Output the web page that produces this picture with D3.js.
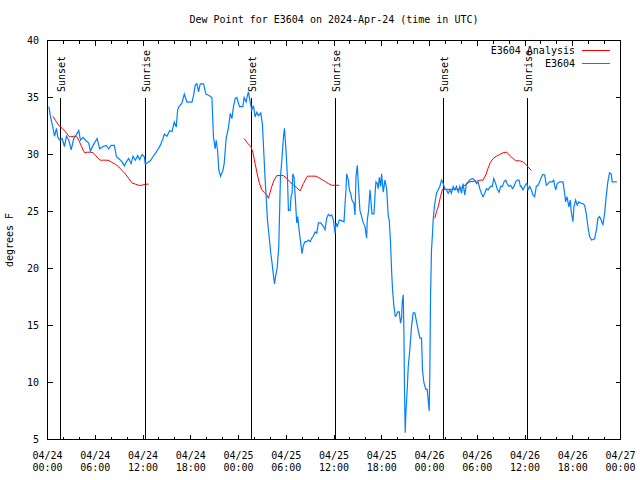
<!DOCTYPE html>
<html><head><meta charset="utf-8">
<script src="https://cdn.jsdelivr.net/npm/d3@7"></script>
<style>
body{margin:0;background:#fff;}
text{font-family:"DejaVu Sans Mono",monospace;font-size:10px;fill:#000;}
</style></head><body>
<svg id="c" width="640" height="480"></svg>
<script>
// hours since 2024-04-24 00:00 UTC
const obsHours = [0.17,0.38,0.67,0.88,1.13,1.30,1.55,1.84,2.13,2.38,2.68,2.97,3.30,3.60,3.93,4.14,4.47,4.77,5.18,5.39,5.73,6.23,6.56,6.98,7.36,7.69,7.99,8.40,8.66,8.95,9.37,9.66,9.91,10.20,10.50,10.75,11.04,11.33,11.58,11.88,12.17,12.29,12.59,12.92,13.25,13.55,13.84,14.17,14.51,14.68,15.01,15.35,15.64,15.93,16.18,16.35,16.52,16.89,17.19,17.52,18.15,18.36,18.57,18.77,18.98,19.19,19.61,19.90,20.24,20.66,20.86,21.07,21.20,21.37,21.53,21.74,22.04,22.20,22.45,22.75,22.96,23.17,23.37,23.58,23.79,24.13,
24.54,24.71,24.96,25.13,25.25,25.46,25.67,25.88,26.09,26.30,26.51,26.80,27.01,27.14,27.35,27.55,27.64,27.89,28.06,28.22,28.39,28.52,28.68,28.85,29.06,29.19,29.27,29.44,29.65,29.77,29.94,30.15,30.27,30.48,30.61,30.73,30.82,30.98,31.15,31.32,31.44,31.61,31.82,31.99,32.15,32.36,32.57,32.78,32.99,33.20,33.41,33.62,33.83,34.04,34.33,34.66,34.87,35.08,35.29,35.50,35.71,35.92,36.13,36.25,36.42,36.67,36.96,37.26,37.38,37.51,37.59,37.80,37.93,38.09,38.26,38.51,38.64,38.76,38.93,39.05,39.26,39.47,39.68,39.89,40.10,40.18,40.35,40.52,40.60,40.77,41.02,41.14,41.27,41.44,41.56,41.69,41.86,41.98,42.19,42.40,42.61,42.82,42.94,43.11,43.23,43.36,43.53,43.70,43.86,43.99,44.20,44.36,44.49,44.57,44.70,44.78,44.87,44.95,45.03,45.20,45.33,45.53,45.74,45.95,46.16,46.37,46.58,46.79,47.00,47.12,47.29,47.54,47.71,47.83,47.96,48.04,48.13,48.25,48.38,48.46,48.63,
48.67,48.88,49.09,49.30,49.51,49.72,49.92,50.13,50.34,50.55,50.76,50.97,51.18,51.39,51.60,51.81,52.02,52.22,52.43,52.64,52.85,53.14,53.40,53.69,53.90,54.11,54.32,54.52,54.73,54.94,55.15,55.36,55.65,55.90,56.07,56.32,56.49,56.74,56.95,57.16,57.37,57.58,57.74,57.99,58.20,58.41,58.62,58.83,59.04,59.25,59.42,59.54,59.75,59.96,60.17,60.25,60.38,60.59,60.80,61.00,61.21,61.42,61.63,61.84,62.05,62.26,62.47,62.68,62.89,63.10,63.43,63.60,63.85,64.06,64.35,64.77,64.98,65.10,65.27,65.52,65.69,65.81,66.02,66.15,66.36,66.56,66.77,67.07,67.28,67.49,67.70,67.91,68.12,68.37,68.75,69.00,69.16,69.37,69.58,69.79,70.00,70.20,70.41,70.62,70.83,70.96,71.25,71.54];
const obsValues = [34.2,33.3,32.4,31.6,32.3,31.5,31.25,31.4,30.7,31.6,31.25,30.4,31.4,31.7,32.1,31.25,31.5,31.25,31.0,30.3,30.8,31.4,30.5,30.7,30.8,30.5,30.8,30.8,29.8,29.65,29.35,29.0,29.35,29.65,29.2,29.85,29.5,29.9,29.55,30.0,29.8,29.15,29.3,29.45,29.8,30.1,30.4,30.8,31.4,31.8,31.6,32.1,32.0,32.85,32.4,33.9,34.2,34.5,35.3,34.6,34.6,35.2,36.1,36.2,35.5,36.2,36.2,35.3,35.2,35.0,31.5,30.5,31.25,30.4,28.6,28.1,28.6,29.2,31.4,32.4,33.6,33.15,34.2,34.9,35.0,34.2,
34.2,35.0,34.6,35.2,35.5,34.6,33.9,34.3,33.3,33.7,33.4,33.65,32.6,30.7,27.75,25.4,24.25,22.5,21.3,20.45,19.4,18.65,19.4,20.0,21.9,25.7,28.0,29.5,31.5,32.3,30.7,28.0,25.1,25.1,26.3,26.6,28.3,28.0,26.0,24.0,24.55,23.4,22.2,21.3,22.05,22.35,22.35,22.5,22.35,22.65,22.85,23.2,23.1,24.0,24.0,23.7,23.4,24.4,24.75,24.6,24.7,24.25,23.1,24.0,23.7,24.25,24.2,24.1,25.55,27.0,28.3,27.75,26.9,26.6,26.0,25.7,24.7,28.0,29.05,27.45,25.1,24.55,24.0,23.7,22.65,24.25,25.1,26.9,26.3,24.8,24.8,26.3,27.6,27.45,27.0,28.0,27.2,28.3,26.7,27.75,27.0,24.55,24.25,22.2,19.9,18.1,16.65,15.8,15.9,16.2,16.2,15.2,15.65,17.0,17.7,14.6,8.8,5.6,7.3,9.4,11.4,12.9,14.9,16.1,16.1,15.35,14.6,13.9,13.9,11.1,10.0,9.4,9.4,8.5,7.5,10.8,17.55,21.6,23.1,24.25,25.55,
25.7,26.6,26.9,27.2,27.75,27.45,27.0,26.9,26.6,26.9,26.6,27.2,26.9,27.2,26.7,27.2,26.6,27.45,26.45,27.45,27.6,27.8,27.9,27.75,27.45,27.6,27.0,26.6,26.3,26.6,27.0,26.9,27.2,27.2,27.9,27.45,27.0,26.7,27.2,27.2,27.6,27.75,27.45,27.2,27.3,27.0,27.2,27.6,27.75,27.75,27.2,27.2,26.9,27.2,27.45,27.45,26.9,27.2,26.9,26.45,26.3,27.2,27.3,27.6,28.0,28.25,28.2,27.3,27.45,27.6,27.6,27.75,26.9,27.45,27.6,27.6,26.6,25.85,26.3,25.4,26.0,25.0,24.1,25.4,26.0,25.55,25.85,25.7,25.7,25.55,24.8,23.65,22.8,22.5,22.6,23.5,24.4,24.55,24.25,23.8,24.8,26.3,27.6,28.4,28.3,27.6,27.6,27.6];

// analysis series (null = no data)
const anaHours = [0.67,1.00,1.42,1.84,2.26,2.68,2.89,3.30,3.64,3.93,4.22,4.47,4.68,4.98,5.39,5.73,6.02,6.31,6.65,7.07,7.49,7.78,8.11,8.53,8.95,9.37,9.78,10.20,10.62,11.04,11.46,11.88,12.29,12.71,
18.0,
24.71,25.13,25.55,25.80,26.09,26.38,26.64,26.93,27.26,27.55,27.76,28.18,28.47,28.81,29.23,29.65,30.06,30.48,30.90,31.32,31.74,32.15,32.66,33.20,33.74,34.25,34.75,35.29,35.71,36.25,36.67,
42.0,
48.67,48.88,49.09,49.38,49.63,50.05,50.55,50.97,51.39,51.81,52.22,52.64,53.06,53.48,53.90,54.32,54.73,55.07,55.36,55.65,55.99,56.41,56.82,57.24,57.66,57.87,58.16,58.50,58.83,59.33,59.75,60.09,60.38,60.80];
const anaValues = [33.35,33.0,32.55,32.3,32.0,31.6,31.55,31.6,31.6,31.25,30.8,30.4,30.15,30.2,30.2,30.15,29.95,29.7,29.5,29.5,29.5,29.45,29.3,29.15,28.9,28.6,28.3,27.9,27.5,27.4,27.3,27.3,27.4,27.4,
null,
31.4,31.0,30.7,30.2,29.2,28.2,27.45,26.9,26.65,26.45,26.15,27.2,27.75,28.15,28.15,28.15,27.9,27.6,27.3,27.1,26.8,27.45,28.1,28.1,28.1,27.9,27.7,27.45,27.3,27.3,27.3,
null,
24.4,25.0,25.4,26.3,26.95,26.95,26.95,26.95,26.95,26.95,27.2,27.4,27.6,27.65,27.65,27.75,27.75,28.2,28.8,29.3,29.65,29.85,30.0,30.15,30.2,30.1,29.85,29.65,29.45,29.45,29.35,29.15,28.9,28.6];

const sunLabels = ["Sunset","Sunrise","Sunset","Sunrise","Sunset","Sunrise"];
const sunHours = [1.54,12.21,25.63,36.16,49.71,60.25];
const yTicks = [5,10,15,20,25,30,35,40];
const seriesNames = ["E3604 Analysis","E3604"];
const seriesColors = ["#ff0000","#0080ff"];

const t0 = Date.UTC(2024,3,24);
const toDate = h => new Date(t0 + h*3600e3);

const svg = d3.select("#c");
const L=47.5,R=620.5,T=40.5,B=439.5;
const x = d3.scaleUtc().domain([toDate(0),toDate(72)]).range([L,R]);
const y = d3.scaleLinear().domain([5,40]).range([B,T]);

// title
svg.append("text").attr("x",(L+R)/2).attr("y",23).attr("text-anchor","middle")
  .text("Dew Point for E3604 on 2024-Apr-24 (time in UTC)");

// y label
svg.append("text").attr("transform","translate(13,240) rotate(-90)").attr("text-anchor","middle").text("degrees F");

// ticks
const major = x.ticks(d3.utcHour.every(6));
const minor = x.ticks(d3.utcHour.every(2)).filter(d=>d.getUTCHours()%6!==0);
const g = svg.append("g").attr("stroke","#000").attr("stroke-width",1).attr("shape-rendering","crispEdges");
major.forEach(d=>{const px=x(d);
  g.append("line").attr("x1",px).attr("x2",px).attr("y1",B).attr("y2",B-5);
  g.append("line").attr("x1",px).attr("x2",px).attr("y1",T).attr("y2",T+5);});
minor.forEach(d=>{const px=x(d);
  g.append("line").attr("x1",px).attr("x2",px).attr("y1",B).attr("y2",B-3);
  g.append("line").attr("x1",px).attr("x2",px).attr("y1",T).attr("y2",T+3);});
yTicks.forEach(v=>{const py=y(v);
  g.append("line").attr("x1",L).attr("x2",L+5).attr("y1",py).attr("y2",py);
  g.append("line").attr("x1",R).attr("x2",R-5).attr("y1",py).attr("y2",py);
  svg.append("text").attr("x",39).attr("y",py+3.5).attr("text-anchor","end").text(v);});
const fD = d3.utcFormat("%m/%d"), fH = d3.utcFormat("%H:%M");
major.forEach(d=>{
  const t = svg.append("text").attr("text-anchor","middle");
  t.append("tspan").attr("x",x(d)).attr("y",458.5).text(fD(d));
  t.append("tspan").attr("x",x(d)).attr("y",471).text(fH(d));
});

// sun lines
sunHours.forEach((h,i)=>{
  const px = Math.round(x(toDate(h)))+0.5;
  g.append("line").attr("x1",px).attr("x2",px).attr("y1",B).attr("y2",98);
  svg.append("text").attr("transform",`translate(${px+4},92) rotate(-90)`).attr("text-anchor","start").text(sunLabels[i]);
});

// series
const anaData = anaHours.map((h,i)=>({t:toDate(h),v:anaValues[i]}));
const obsData = obsHours.map((h,i)=>({t:toDate(h),v:obsValues[i]}));
const line = d3.line().defined(d=>d.v!==null).x(d=>x(d.t)).y(d=>y(d.v));
svg.append("path").datum(anaData).attr("d",line).attr("fill","none").attr("stroke",seriesColors[0]).attr("stroke-width",1);
svg.append("path").datum(obsData).attr("d",line).attr("fill","none").attr("stroke",seriesColors[1]).attr("stroke-width",1.2);

// frame
svg.append("rect").attr("x",L).attr("y",T).attr("width",R-L).attr("height",B-T)
  .attr("fill","none").attr("stroke","#000").attr("shape-rendering","crispEdges");

// legend
seriesNames.forEach((n,i)=>{
  const ly = 50 + i*13;
  svg.append("text").attr("x",575).attr("y",ly+3.5).attr("text-anchor","end").text(n);
  svg.append("line").attr("x1",582).attr("x2",610).attr("y1",ly+0.5).attr("y2",ly+0.5)
    .attr("stroke",seriesColors[i]).attr("stroke-width",1);
});
</script></body></html>
